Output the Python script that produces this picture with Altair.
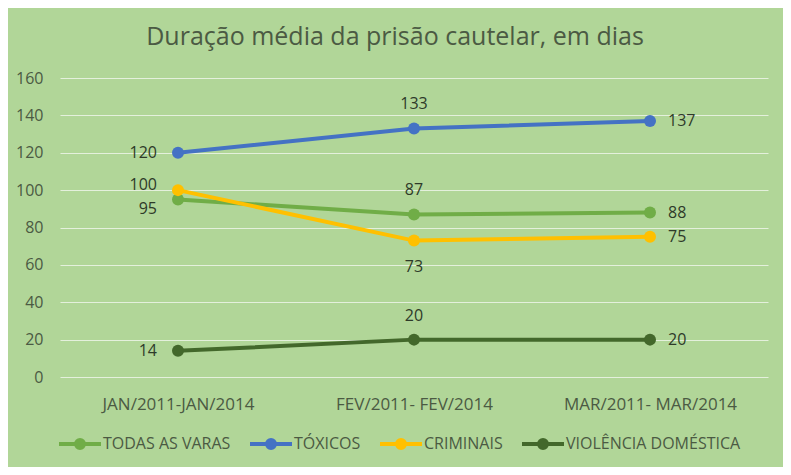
import altair as alt
import pandas as pd

categories = ["JAN/2011-JAN/2014", "FEV/2011- FEV/2014", "MAR/2011- MAR/2014"]
series = ["TODAS AS VARAS", "TÓXICOS", "CRIMINAIS", "VIOLÊNCIA DOMÉSTICA"]
todas_as_varas = [95, 87, 88]
toxicos = [120, 133, 137]
criminais = [100, 73, 75]
violencia_domestica = [14, 20, 20]
colors = ["#70ad47", "#4472c4", "#ffc000", "#43682b"]
y_ticks = [0, 20, 40, 60, 80, 100, 120, 140, 160]

values = [todas_as_varas, toxicos, criminais, violencia_domestica]
rows = []
for si, (s, vals) in enumerate(zip(series, values)):
    for ci, (c, v) in enumerate(zip(categories, vals)):
        rows.append({"serie": s, "periodo": c, "valor": v, "ordem": si, "idx": ci})
df = pd.DataFrame(rows)

FONT = "Segoe UI, Open Sans, sans-serif"
TXT = "#4b5a43"
LBL = "#2e3a29"

sym = ("M-1,0L1,0"
       "M-0.19,0A0.19,0.19,0,1,0,0.19,0A0.19,0.19,0,1,0,-0.19,0"
       "M-0.07,0A0.07,0.07,0,1,0,0.07,0A0.07,0.07,0,1,0,-0.07,0")

legend = alt.Legend(
    title=None, orient="none", direction="horizontal", legendX=-3, legendY=343,
    symbolType=sym, symbolSize=1764, symbolStrokeWidth=4, symbolOpacity=1,
    labelFont=FONT, labelFontSize=16, labelColor=TXT, labelOffset=0,
    labelLimit=400, columnPadding=11, columns=4,
)

x = alt.X("periodo:N", sort=categories, title=None,
          scale=alt.Scale(type="point", padding=0.5),
          axis=alt.Axis(labelAngle=0, labelPadding=19, ticks=False, domain=False,
                        labelFont=FONT, labelFontSize=17, labelColor=TXT))
y = alt.Y("valor:Q", title=None,
          scale=alt.Scale(domain=[0, 160], nice=False),
          axis=alt.Axis(values=y_ticks, ticks=False, domain=False, labelPadding=17,
                        labelFont=FONT, labelFontSize=16, labelColor=TXT,
                        gridColor="#e4f0dc", gridWidth=1))
color = alt.Color("serie:N", sort=series,
                  scale=alt.Scale(domain=series, range=colors), legend=legend)

base = alt.Chart(df).encode(x=x, y=y)

lines = base.mark_line(strokeWidth=4).encode(color=color, detail="serie:N",
                                             order="idx:Q")
points = base.mark_point(filled=True, size=144, opacity=1).encode(color=color)

def lbl(filter_expr, **kw):
    return base.transform_filter(filter_expr).mark_text(
        font=FONT, fontSize=16, color=LBL, baseline="middle", **kw
    ).encode(text="valor:Q")

first = "datum.idx == 0"
mid = "datum.idx == 1"
last = "datum.idx == 2"

labels = [
    lbl(f"{first} && (datum.serie == 'TÓXICOS' || datum.serie == 'VIOLÊNCIA DOMÉSTICA')",
        align="right", dx=-21),
    lbl(f"{first} && datum.serie == 'TODAS AS VARAS'", align="right", dx=-21, dy=10),
    lbl(f"{first} && datum.serie == 'CRIMINAIS'", align="right", dx=-21, dy=-5),
    lbl(f"{mid} && datum.serie != 'CRIMINAIS'", align="center", dy=-24),
    lbl(f"{mid} && datum.serie == 'CRIMINAIS'", align="center", dy=26),
    lbl(last, align="left", dx=18),
]

chart = alt.layer(lines, points, *labels).properties(
    width=708, height=299,
    title=alt.Title("Duração média da prisão cautelar, em dias", font=FONT,
                    fontSize=25, fontWeight="normal", color=TXT, anchor="middle",
                    dx=-19, offset=20),
    padding={"left": 52, "top": 70, "right": 15, "bottom": 90},
    autosize="none",
    background="#b1d698",
).configure_view(stroke=None)

chart.save("out.html", embed_options={"renderer": "svg", "actions": False})
